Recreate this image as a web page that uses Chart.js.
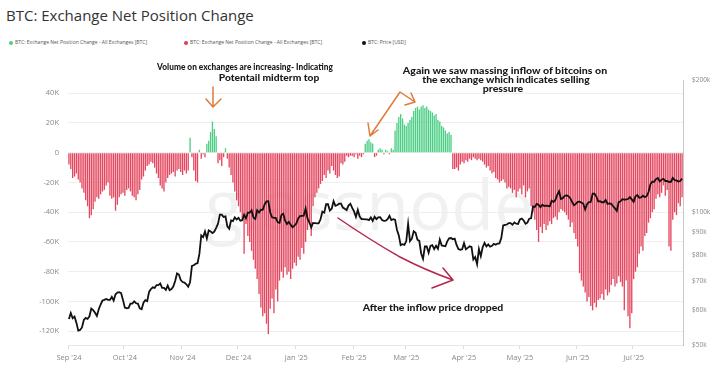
<!DOCTYPE html>
<html>
<head>
<meta charset="utf-8">
<script src="https://cdn.jsdelivr.net/npm/chart.js@4.4.1/dist/chart.umd.min.js"></script>
<style>
  html, body { margin: 0; padding: 0; background: #fff; }
  body { width: 713px; height: 375px; position: relative; overflow: hidden; font-family: 'Open Sans', sans-serif; }
  #title { position: absolute; left: 6px; top: 6px; font-size: 15px; color: #333; line-height: 1.2; white-space: nowrap; }
  .legend { position: absolute; top: 40px; font-size: 5px; color: #555; white-space: nowrap; line-height: 5px; }
  .legend i { display: inline-block; width: 4px; height: 4px; border-radius: 50%; margin-right: 2px; vertical-align: middle; }
  #mark { position: absolute; left: 205px; top: 168px; font-size: 70px; color: #000; opacity: 0.05; font-family: 'Open Sans', sans-serif; line-height: 1; }
  #wrap { position: absolute; left: 0; top: 50px; width: 713px; height: 325px; }
  .note { position: absolute; font-family: Lato, sans-serif; font-weight: 900; color: #1a1a1a; white-space: nowrap; line-height: 1; }
  svg { position: absolute; left: 0; top: 0; pointer-events: none; }
</style>
</head>
<body>
<div id="title">BTC: Exchange Net Position Change</div>
<div class="legend" style="left:9px"><i style="background:#4ccf85"></i>BTC: Exchange Net Position Change - All Exchanges [BTC]</div>
<div class="legend" style="left:184px"><i style="background:#e03a55"></i>BTC: Exchange Net Position Change - All Exchanges [BTC]</div>
<div class="legend" style="left:362px"><i style="background:#111"></i>BTC: Price [USD]</div>
<div id="mark">glassnode</div>
<div id="wrap"><canvas id="chart"></canvas></div>

<div class="note" data-x="245" data-y="67" data-w="176" style="font-size:8.5px">Volume on exchanges are increasing- Indicating</div>
<div class="note" data-x="269" data-y="78" data-w="101" style="font-size:8.5px">Potentail midterm top</div>
<div class="note" data-x="505" data-y="70" data-w="204" style="font-size:9px">Again we saw massing inflow of bitcoins on</div>
<div class="note" data-x="506" data-y="79" data-w="168" style="font-size:9px">the exchange which indicates selling</div>
<div class="note" data-x="503" data-y="88" data-w="40" style="font-size:9px">pressure</div>
<div class="note" data-x="433" data-y="307" data-w="140" style="font-size:9px">After the inflow price dropped</div>

<svg width="713" height="375">
  <g fill="none" stroke="#e07b39" stroke-width="1.5" stroke-linecap="round" stroke-linejoin="round">
    <path d="M213 87 L213 107 M206 99 L213 107 L221 99"/>
    <path d="M370 136 L400 92 L415 102 M368 123 L370 136 L378 130 M405 105 L415 102 L411 93"/>
  </g>
  <g fill="none" stroke="#b5264c" stroke-width="1.5" stroke-linecap="round" stroke-linejoin="round">
    <path d="M338 218 Q 370 240 400 257 Q 425 270 453 280 M443 268 L453 280 L432 288"/>
  </g>
</svg>

<script>
// months on the x axis and how many daily bars each one has
const months = ["Sep '24", "Oct '24", "Nov '24", "Dec '24", "Jan '25", "Feb '25", "Mar '25", "Apr '25", "May '25", "Jun '25", "Jul '25"];
const daysShown = [30, 31, 30, 31, 31, 28, 31, 30, 31, 30, 27];

// daily exchange net position change, thousands of BTC
const netFlowK = [
  -8,-11,-17,-16,-14,-18,-20,-24,-27,-32,-36,-44,-42,-38,-33,-30,-31,-28,-26,-25,-22,-20,-29,-31,-30,-39,-35,-30,-28,-27,
  -29,-25,-24,-26,-29,-30,-32,-28,-25,-18,-16,-12,-9,-8,-6,-7,-10,-14,-17,-22,-24,-26,-20,-17,-15,-14,-13,-16,-12,-11,-13,
  -15,-12,-14,-12,10,-3,-12,-19,-20,2,-4,-1,-3,6,8,14,21,16,11,-7,-5,-9,-3,3,-4,-10,-15,-20,-26,-32,
  -36,-40,-45,-68,-48,-56,-60,-66,-72,-78,-85,-95,-104,-110,-108,-115,-122,-105,-98,-108,-92,-100,-86,-80,-84,-77,-82,-80,-85,-78,-74,
  -76,-70,-72,-64,-68,-60,-52,-48,-56,-36,-30,-27,-24,-21,-19,-15,-17,-12,-14,-9,-12,-15,-17,-16,-7,-8,-6,-2,-3,-2,-2,
  -3,-1,-4,-2,-3,-1,6,8,9,7,6,-3,-2,2,3,2,-1,2,1,-1,3,2,15,20,24,26,23,19,
  18,20,22,24,28,30,31,29,31,32,30,31,29,28,27,25,26,22,21,18,17,15,13,14,12,-11,-11,-10,-12,-8,-6,
  -7,-5,-6,-4,-5,-3,-4,-5,-4,-5,-6,-8,-10,-9,-12,-14,-13,-17,-18,-20,-19,-18,-20,-24,-23,-24,-27,-25,-30,-26,
  -24,-28,-22,-30,-26,-24,-36,-40,-45,-52,-60,-50,-54,-48,-52,-49,-46,-48,-44,-43,-45,-40,-38,-39,-40,-42,-45,-50,-47,-54,-58,
  -63,-81,-86,-90,-94,-100,-97,-103,-106,-101,-104,-99,-98,-95,-99,-92,-96,-94,-89,-85,-90,-88,-83,-87,-90,-106,-86,-110,-118,-108,
  -85,-80,-77,-68,-63,-66,-56,-54,-47,-44,-40,-38,-31,-28,-30,-27,-22,-29,-25,-63,-66,-45,-40,-42,-34,-36,-30
];

// daily BTC price, thousands of USD
const priceK = [
  57.3,59.1,57.5,58.0,56.2,53.9,54.1,54.8,57.0,57.6,57.3,58.1,60.5,60.0,59.2,58.2,60.3,61.8,63.1,63.3,63.6,63.3,63.3,64.3,63.1,65.2,65.8,65.9,65.6,63.3,
  60.8,60.6,60.7,62.1,62.1,62.8,62.2,62.1,60.6,60.3,62.4,63.2,62.9,66.0,67.0,67.6,67.4,68.4,68.4,69.0,67.4,67.4,66.7,68.2,66.6,67.0,67.9,69.9,72.7,72.3,70.2,
  69.5,69.3,68.7,67.8,69.4,75.6,75.9,76.5,76.7,80.5,88.7,87.9,90.6,87.3,91.1,90.6,89.8,90.5,92.3,94.3,98.9,98.9,97.7,98.0,93.0,91.9,95.9,95.6,97.5,96.4,
  97.2,95.8,96.0,98.8,97.0,99.9,99.9,101.2,97.4,96.7,101.2,100.0,101.5,101.4,104.3,106.0,106.1,100.0,97.5,97.2,97.2,95.1,94.7,98.7,99.4,95.8,94.2,95.2,93.7,92.6,93.4,
  94.4,96.9,98.1,98.2,98.3,102.1,96.9,95.0,92.5,94.7,94.6,94.5,94.5,96.5,100.5,99.9,104.4,104.4,101.0,102.0,106.1,103.6,104.0,104.7,104.7,102.6,102.0,101.3,103.7,104.7,102.4,
  100.6,97.7,101.4,97.9,96.6,96.6,96.5,96.5,96.1,97.4,95.7,97.8,96.6,97.5,97.6,96.1,95.7,95.8,96.6,98.3,96.1,96.6,96.3,91.4,88.7,84.3,84.7,84.4,
  86.0,94.2,86.1,87.2,90.6,89.9,86.7,86.2,80.7,78.5,83.7,83.7,81.0,84.0,84.3,82.6,84.0,82.7,86.8,84.2,84.0,83.8,86.0,87.4,87.5,86.9,87.2,84.4,82.6,82.3,82.5,
  85.2,82.5,83.1,83.8,83.5,78.2,79.2,76.3,82.6,79.6,83.4,85.3,83.7,84.6,83.6,84.0,84.9,84.5,85.0,85.1,87.5,93.4,93.7,93.9,94.6,94.6,93.8,94.9,94.3,94.2,
  96.5,96.9,95.9,94.3,94.8,96.8,97.0,103.2,102.9,104.6,104.1,102.8,104.2,103.5,103.7,103.5,103.2,106.4,105.6,106.8,109.7,111.7,107.3,107.8,109.0,109.4,108.9,107.8,105.6,103.9,104.6,
  105.7,105.8,105.4,104.7,101.6,104.4,105.6,105.7,110.3,110.3,108.7,105.9,106.1,105.5,105.5,106.8,104.6,104.9,104.6,103.3,102.2,100.9,105.6,106.0,107.3,106.9,107.1,107.3,108.4,107.1,
  105.7,108.8,109.6,108.0,108.2,109.2,108.3,108.9,111.3,115.9,117.5,117.4,119.1,119.8,117.7,118.7,119.3,117.9,117.9,117.3,117.4,119.9,118.5,118.3,117.6,117.9,119.4
];

const leftTicks = [40, 20, 0, -20, -40, -60, -80, -100, -120];
const priceTicks = [50, 60, 70, 80, 90, 100, 200];

// one category per day, month name only on the 1st
const days = [];
const tickText = [];
months.forEach((m, i) => {
  for (let d = 1; d <= daysShown[i]; d++) {
    days.push(m + ' ' + d);
    tickText.push(d === 1 ? m : '');
  }
});

const GREEN = '#4ccf85';
const RED = '#e4475f';

new Chart(document.getElementById('chart'), {
  data: {
    labels: days,
    datasets: [
      {
        type: 'line',
        data: priceK,
        yAxisID: 'y1',
        borderColor: '#111',
        borderWidth: 1.8,
        pointRadius: 0,
        tension: 0,
        order: 0
      },
      {
        type: 'bar',
        data: netFlowK,
        yAxisID: 'y',
        backgroundColor: ctx => (ctx.raw >= 0 ? GREEN : RED),
        barPercentage: 0.72,
        categoryPercentage: 1,
        order: 1
      }
    ]
  },
  options: {
    responsive: true,
    maintainAspectRatio: false,
    animation: false,
    layout: { padding: { top: 30, left: 0, right: 0, bottom: 0 } },
    plugins: { legend: { display: false }, tooltip: { enabled: false } },
    scales: {
      x: {
        offset: true,
        grid: {
          drawOnChartArea: false,
          tickLength: 4,
          color: c => (tickText[c.index] ? '#dddddd' : 'rgba(0,0,0,0)')
        },
        border: { display: true, color: '#e8e8e8' },
        ticks: {
          autoSkip: false,
          maxRotation: 0,
          minRotation: 0,
          padding: 4,
          color: '#888',
          font: { family: 'Open Sans', size: 7.5 },
          callback: (v, i) => tickText[i]
        },
        afterFit: s => { s.height = 30; }
      },
      y: {
        position: 'left',
        min: -129.3,
        max: 48.9,
        grid: { color: '#efefef', drawTicks: false },
        border: { display: false },
        ticks: {
          padding: 9,
          color: '#888',
          font: { family: 'Open Sans', size: 7.5 },
          callback: v => (v === 0 ? '0' : v + 'K')
        },
        afterBuildTicks: s => { s.ticks = leftTicks.map(v => ({ value: v })); },
        afterFit: s => { s.width = 68; }
      },
      y1: {
        type: 'logarithmic',
        position: 'right',
        min: 50,
        max: 200,
        grid: { drawOnChartArea: false, drawTicks: false },
        border: { display: true, color: '#c8c8c8' },
        ticks: {
          padding: 9,
          color: '#888',
          font: { family: 'Open Sans', size: 6.5 },
          callback: v => '$' + v + 'k'
        },
        afterBuildTicks: s => { s.ticks = priceTicks.map(v => ({ value: v })); },
        afterFit: s => { s.width = 30; }
      }
    }
  }
});

// squeeze the hand written notes to the width they have in the picture
document.querySelectorAll('.note').forEach(el => {
  const k = +el.dataset.w / el.offsetWidth;
  el.style.left = el.dataset.x + 'px';
  el.style.top = el.dataset.y + 'px';
  el.style.transform = 'translate(-50%,-50%) scaleX(' + k.toFixed(3) + ')';
});
</script>
</body>
</html>
